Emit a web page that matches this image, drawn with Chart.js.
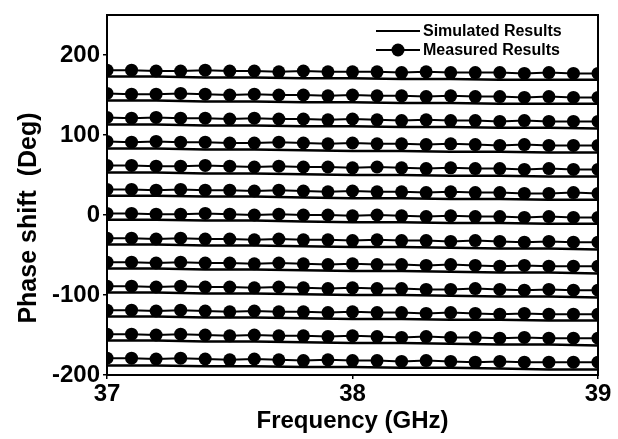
<!DOCTYPE html>
<html>
<head>
<meta charset="utf-8">
<script src="https://cdn.jsdelivr.net/npm/chart.js@4.4.1/dist/chart.umd.min.js"></script>
<style>
  html, body { margin: 0; padding: 0; background: #fff; }
  canvas { display: block; }
</style>
</head>
<body>
<canvas id="phase-chart" width="618" height="439"></canvas>
<script>
// Phase shift vs frequency, 13 phase states, simulated (lines) vs measured (dots)

// measured frequencies, 0.1 GHz apart
const measFreq = [37.0, 37.1, 37.2, 37.3, 37.4, 37.5, 37.6, 37.7, 37.8, 37.9, 38.0,
                  38.1, 38.2, 38.3, 38.4, 38.5, 38.6, 38.7, 38.8, 38.9, 39.0];
// simulated frequencies, 0.2 GHz apart
const simFreq = [37.0, 37.2, 37.4, 37.6, 37.8, 38.0, 38.2, 38.4, 38.6, 38.8, 39.0];

const meas180 = [181, 181, 180, 180, 181, 180, 180, 179, 180, 179, 179, 179, 178, 179, 178, 178, 178, 177, 178, 177, 177];
const meas150 = [152, 151, 151, 152, 151, 150, 151, 150, 150, 149, 150, 149, 149, 148, 149, 148, 148, 147, 148, 147, 147];
const meas120 = [122, 121, 122, 121, 121, 120, 121, 120, 120, 119, 120, 119, 118, 119, 118, 118, 117, 118, 117, 117, 117];
const meas90 = [92, 91, 92, 91, 91, 90, 90, 91, 90, 89, 90, 89, 89, 88, 89, 88, 87, 88, 87, 87, 87];
const meas60 = [62, 62, 61, 61, 62, 61, 60, 61, 60, 60, 59, 60, 59, 58, 59, 58, 58, 57, 58, 57, 57];
const meas30 = [32, 32, 31, 32, 31, 31, 30, 31, 30, 29, 30, 29, 29, 28, 29, 28, 28, 27, 27, 28, 27];
const meas0 = [2, 2, 1, 1, 2, 1, 0, 1, 0, 0, -1, 0, -1, -2, -1, -2, -2, -3, -2, -3, -3];
const measM30 = [-29, -29, -30, -29, -30, -30, -31, -30, -31, -31, -32, -31, -32, -32, -33, -32, -33, -34, -33, -34, -34];
const measM60 = [-59, -59, -60, -59, -60, -60, -61, -60, -61, -62, -61, -62, -62, -63, -62, -63, -64, -63, -64, -64, -64];
const measM90 = [-89, -89, -90, -89, -90, -90, -91, -90, -91, -92, -91, -92, -92, -93, -93, -92, -93, -94, -93, -94, -94];
const measM120 = [-119, -119, -120, -119, -120, -121, -120, -121, -121, -122, -121, -122, -122, -123, -122, -123, -124, -123, -124, -124, -124];
const measM150 = [-149, -149, -150, -149, -150, -151, -150, -151, -151, -152, -151, -152, -153, -152, -153, -153, -154, -153, -154, -154, -154];
const measM180 = [-179, -179, -180, -179, -180, -181, -180, -181, -182, -181, -182, -182, -183, -182, -183, -184, -183, -184, -184, -184, -184];

const sim180 = [173, 173, 172, 172, 171, 171, 170, 170, 169, 169, 169];
const sim150 = [143, 143, 142, 142, 141, 141, 140, 140, 139, 139, 139];
const sim120 = [113, 113, 112, 112, 111, 111, 110, 110, 109, 109, 108];
const sim90 = [83, 83, 82, 82, 81, 80, 80, 79, 79, 78, 78];
const sim60 = [53, 53, 52, 52, 51, 50, 50, 49, 49, 48, 48];
const sim30 = [24, 24, 23, 23, 22, 21, 21, 20, 20, 19, 19];
const sim0 = [-6, -6, -7, -7, -8, -9, -9, -10, -10, -11, -11];
const simM30 = [-37, -37, -38, -38, -39, -40, -40, -41, -42, -42, -43];
const simM60 = [-67, -67, -68, -68, -69, -70, -70, -71, -72, -72, -73];
const simM90 = [-97, -97, -98, -98, -99, -100, -100, -101, -102, -102, -103];
const simM120 = [-127, -127, -128, -128, -129, -130, -130, -131, -131, -132, -132];
const simM150 = [-157, -157, -158, -158, -159, -160, -160, -161, -162, -162, -163];
const simM180 = [-188, -188, -189, -189, -190, -190, -191, -191, -192, -193, -193];

const measuredRows = [meas180, meas150, meas120, meas90, meas60, meas30, meas0,
                      measM30, measM60, measM90, measM120, measM150, measM180];
const simulatedRows = [sim180, sim150, sim120, sim90, sim60, sim30, sim0,
                       simM30, simM60, simM90, simM120, simM150, simM180];

const xTicks = [37, 38, 39];
const yTicks = [-200, -100, 0, 100, 200];

const FONT = '"Liberation Sans", Arial, Helvetica, sans-serif';

const datasets = [];
simulatedRows.forEach(function (row, i) {
  datasets.push({
    label: i === 0 ? 'Simulated Results' : '',
    data: row.map((v, j) => ({ x: simFreq[j], y: v })),
    borderColor: '#000',
    borderWidth: 2.5,
    pointRadius: 0,
    tension: 0,
    clip: 0
  });
});
measuredRows.forEach(function (row, i) {
  datasets.push({
    label: i === 0 ? 'Measured Results' : '',
    data: row.map((v, j) => ({ x: measFreq[j], y: v })),
    borderColor: '#000',
    borderWidth: 2,
    pointRadius: 6.5,
    pointBackgroundColor: '#000',
    pointBorderWidth: 0,
    pointHoverRadius: 6.5,
    tension: 0,
    clip: 0
  });
});

// frame, y title and the legend inside the plot
const extras = {
  id: 'extras',
  afterDraw(chart) {
    const ctx = chart.ctx;
    const a = chart.chartArea;
    ctx.save();
    ctx.strokeStyle = '#000';
    ctx.lineWidth = 2;
    ctx.strokeRect(a.left, a.top, a.right - a.left, a.bottom - a.top);

    // y axis title
    ctx.fillStyle = '#000';
    ctx.font = 'bold 25px ' + FONT;
    ctx.textAlign = 'center';
    ctx.textBaseline = 'middle';
    ctx.translate(29, 218);
    ctx.rotate(-Math.PI / 2);
    ctx.fillText('Phase shift  (Deg)', 0, 0);
    ctx.restore();

    // legend
    const sim = chart.data.datasets[0];
    const meas = chart.data.datasets[simulatedRows.length];
    const lx0 = a.right - 222, lx1 = a.right - 178, tx = a.right - 175;
    ctx.save();
    ctx.strokeStyle = '#000';
    ctx.fillStyle = '#000';
    ctx.font = 'bold 16px ' + FONT;
    ctx.textAlign = 'left';
    ctx.textBaseline = 'middle';

    ctx.lineWidth = 2;
    ctx.beginPath();
    ctx.moveTo(lx0, a.top + 16);
    ctx.lineTo(lx1, a.top + 16);
    ctx.stroke();
    ctx.fillText(sim.label, tx, a.top + 17);

    ctx.beginPath();
    ctx.moveTo(lx0, a.top + 35);
    ctx.lineTo(lx1, a.top + 35);
    ctx.stroke();
    ctx.beginPath();
    ctx.arc((lx0 + lx1) / 2, a.top + 35, 6.5, 0, Math.PI * 2);
    ctx.fill();
    ctx.fillText(meas.label, tx, a.top + 36);
    ctx.restore();
  }
};

new Chart(document.getElementById('phase-chart'), {
  type: 'line',
  data: { datasets: datasets },
  plugins: [extras],
  options: {
    responsive: false,
    animation: false,
    events: [],
    layout: { padding: { top: 10, right: 20, left: 0, bottom: 0 } },
    plugins: {
      legend: { display: false },
      tooltip: { enabled: false }
    },
    scales: {
      x: {
        type: 'linear',
        min: 37,
        max: 39,
        afterFit(s) { s.height = 64; },
        afterBuildTicks(s) { s.ticks = xTicks.map(v => ({ value: v })); },
        border: { display: false },
        grid: { drawOnChartArea: false, tickLength: 4, color: '#000', lineWidth: 1.5 },
        ticks: {
          color: '#000',
          padding: 3,
          maxRotation: 0,
          autoSkip: false,
          font: { family: FONT, size: 24, weight: 'bold', lineHeight: 1 }
        },
        title: {
          display: true,
          text: 'Frequency (GHz)',
          color: '#000',
          padding: { top: 0, bottom: 3 },
          font: { family: FONT, size: 24, weight: 'bold', lineHeight: 1.2 }
        }
      },
      y: {
        type: 'linear',
        min: -200,
        max: 250,
        afterFit(s) { s.width = 107; },
        afterBuildTicks(s) { s.ticks = yTicks.map(v => ({ value: v })); },
        border: { display: false },
        grid: { drawOnChartArea: false, tickLength: 4, color: '#000', lineWidth: 1.5 },
        ticks: {
          color: '#000',
          padding: 3,
          autoSkip: false,
          font: { family: FONT, size: 24, weight: 'bold', lineHeight: 1 }
        }
      }
    }
  }
});
</script>
</body>
</html>
